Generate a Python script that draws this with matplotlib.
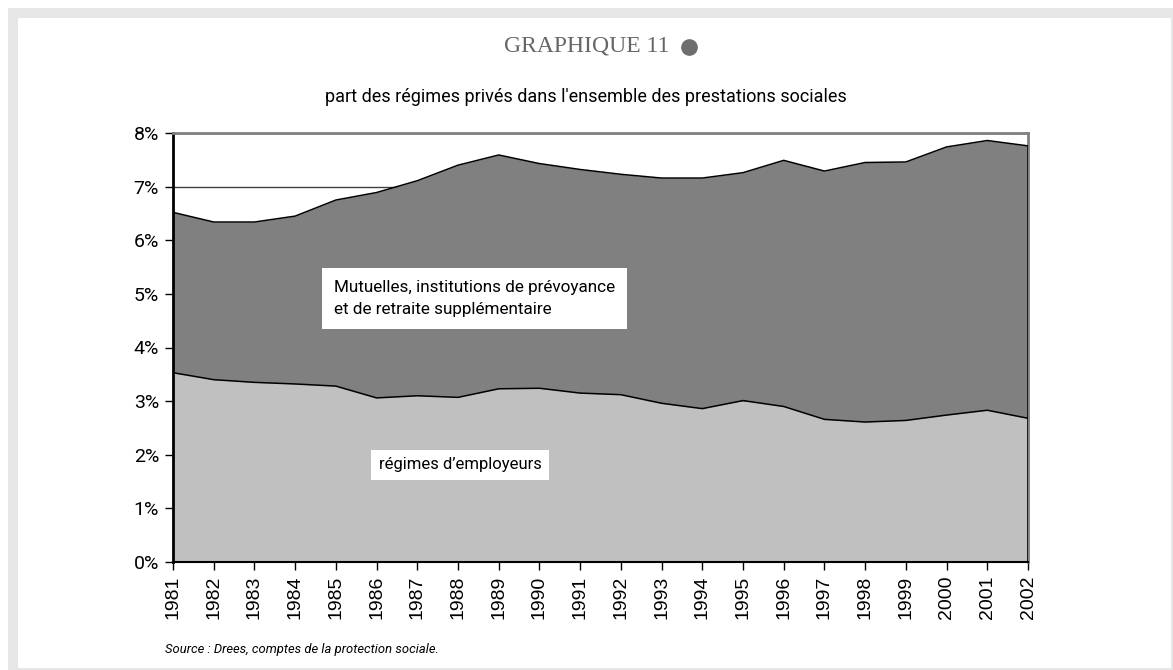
import matplotlib
matplotlib.use("Agg")
import matplotlib.pyplot as plt
from matplotlib.patches import Rectangle
from matplotlib.lines import Line2D

years = list(range(1981, 2003))
employeurs = [3.53, 3.40, 3.35, 3.32, 3.28, 3.06, 3.10, 3.07, 3.23, 3.24, 3.15,
              3.12, 2.96, 2.86, 3.01, 2.90, 2.66, 2.61, 2.64, 2.74, 2.83, 2.68]
mutuelles = [2.99, 2.94, 2.99, 3.13, 3.47, 3.83, 4.01, 4.33, 4.36, 4.19, 4.17,
             4.11, 4.20, 4.30, 4.25, 4.59, 4.63, 4.84, 4.82, 5.00, 5.03, 5.08]
yticks = [0, 1, 2, 3, 4, 5, 6, 7, 8]

cond = "Roboto"

fig = plt.figure(figsize=(11.73, 6.70), dpi=100)
W, H = 1173, 670

# light grey frame around the panel
fig.patches.append(Rectangle((8 / W, 0), 1 - 8 / W, 1 - 8 / H, transform=fig.transFigure,
                             facecolor="#e6e6e6", edgecolor="none", zorder=-2))
fig.patches.append(Rectangle((18 / W, 2 / H), (1171 - 18) / W, (668 - 18) / H,
                             transform=fig.transFigure, facecolor="white",
                             edgecolor="none", zorder=-1))

ax = fig.add_axes([173 / W, 1 - 562 / H, (1028 - 173) / W, (562 - 133) / H], zorder=1)
ax.set_facecolor("none")

total = [e + m for e, m in zip(employeurs, mutuelles)]
ax.fill_between(years, 0, employeurs, color="#c0c0c0", lw=0, zorder=2)
ax.fill_between(years, employeurs, total, color="#808080", lw=0, zorder=2)
ax.plot(years, employeurs, color="black", lw=1.1, zorder=3)
ax.plot(years, total, color="black", lw=1.1, zorder=3)
ax.plot([years[-1], years[-1]], [0, total[-1]], color="black", lw=1.1, zorder=3)

ax.set_xlim(years[0], years[-1])
ax.set_ylim(0, 8)
ax.set_yticks(yticks)
ax.set_yticklabels([f"{v}%" for v in yticks], family=cond, fontsize=14)
ax.set_xticks(years)
ax.set_xticklabels([str(y) for y in years], rotation=90, family="Liberation Sans",
                   fontsize=14)
ax.yaxis.grid(True, color="#404040", lw=1)
ax.set_axisbelow(True)

for s in ("top", "right"):
    ax.spines[s].set_color("#808080")
    ax.spines[s].set_linewidth(2)
ax.spines["left"].set_linewidth(2)
ax.spines["bottom"].set_linewidth(1.5)
ax.tick_params(axis="both", direction="out", length=6, width=1, colors="black", pad=4)

fig.text(669 / W, 1 - 46 / H, "GRAPHIQUE 11", family="Liberation Serif",
         fontsize=17, color="#666666", ha="right", va="center")
fig.add_artist(Line2D([689 / W], [1 - 47 / H], marker="o", markersize=11,
                      color="#6e6e6e", transform=fig.transFigure))
fig.text(586 / W, 1 - 97 / H,
         "part des régimes privés dans l'ensemble des prestations sociales",
         family=cond, fontsize=13, ha="center", va="center")

ax.text(1984.95, 4.92, "Mutuelles, institutions de prévoyance\net de retraite supplémentaire",
        family=cond, fontsize=12.3, ha="left", va="center", linespacing=1.6,
        bbox=dict(facecolor="white", edgecolor="none", boxstyle="square,pad=0.7"), zorder=5)
ax.text(1986.05, 1.81, "régimes d\u2019employeurs", family=cond, fontsize=12,
        ha="left", va="center",
        bbox=dict(facecolor="white", edgecolor="none", boxstyle="square,pad=0.45"), zorder=5)

fig.text(165 / W, 1 - 650 / H, "Source : Drees, comptes de la protection sociale.",
         family=cond, style="italic", fontsize=9.4, ha="left", va="center")

fig.savefig("out.png", dpi=100)
